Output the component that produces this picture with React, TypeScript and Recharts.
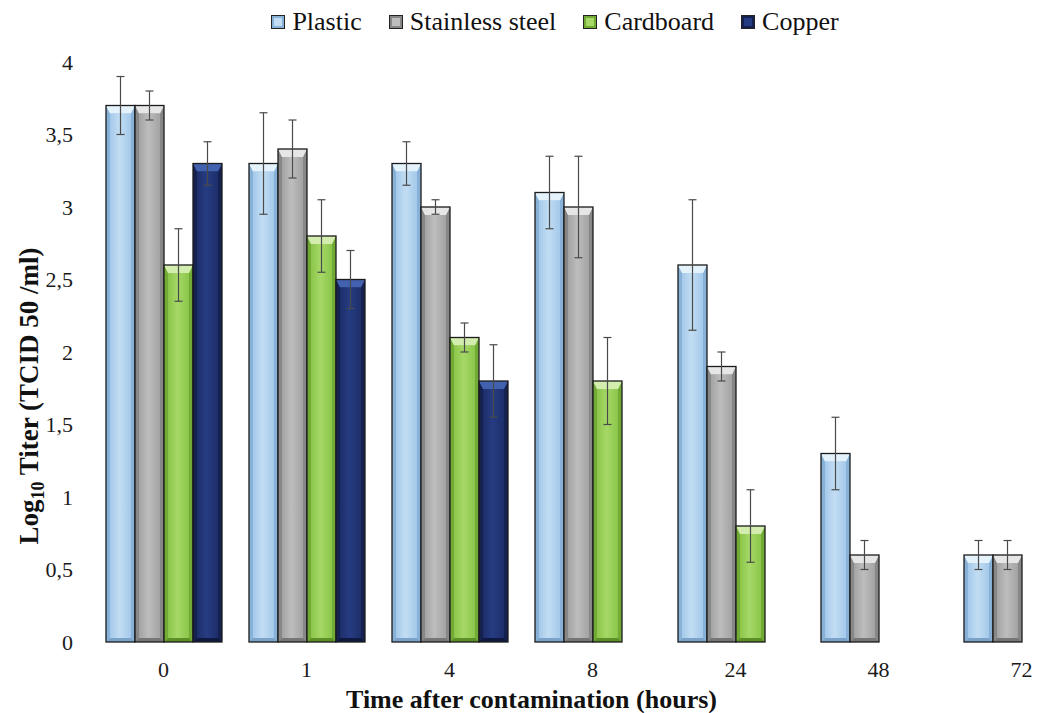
import React from 'react';
import { BarChart, Bar, XAxis, YAxis, Legend, ErrorBar, Label } from 'recharts';

// values (log10 titer, mean and +/- error)
const hours = ['0', '1', '4', '8', '24', '48', '72'];
const plastic = [3.7, 3.3, 3.3, 3.1, 2.6, 1.3, 0.6];
const plasticErr = [0.2, 0.35, 0.15, 0.25, 0.45, 0.25, 0.1];
const steel = [3.7, 3.4, 3.0, 3.0, 1.9, 0.6, 0.6];
const steelErr = [0.1, 0.2, 0.05, 0.35, 0.1, 0.1, 0.1];
const cardboard = [2.6, 2.8, 2.1, 1.8, 0.8, null, null];
const cardboardErr = [0.25, 0.25, 0.1, 0.3, 0.25, null, null];
const copper = [3.3, 2.5, 1.8, null, null, null, null];
const copperErr = [0.15, 0.2, 0.25, null, null, null, null];
const yTicks = [0, 0.5, 1, 1.5, 2, 2.5, 3, 3.5, 4];

const data = hours.map((h, i) => ({
  hour: h,
  plastic: plastic[i],
  plasticErr: plasticErr[i],
  steel: steel[i],
  steelErr: steelErr[i],
  cardboard: cardboard[i],
  cardboardErr: cardboardErr[i],
  copper: copper[i],
  copperErr: copperErr[i],
}));

const FONT = '"Liberation Serif", "Times New Roman", serif';

const palettes = {
  plastic: { face: '#A4C9EA', light: '#C2DDF3', side: '#88B1D8', top: '#E4F2FC', bottom: '#7BA2C8' },
  steel: { face: '#A3A3A3', light: '#BDBDBD', side: '#878787', top: '#E6E6E6', bottom: '#767676' },
  cardboard: { face: '#8BC64A', light: '#A6D867', side: '#71AB35', top: '#D2EDAE', bottom: '#5C9026' },
  copper: { face: '#1D2E6A', light: '#263C82', side: '#152250', top: '#4261AE', bottom: '#0F1940' },
};

const series = [
  { key: 'plastic', name: 'Plastic' },
  { key: 'steel', name: 'Stainless steel' },
  { key: 'cardboard', name: 'Cardboard' },
  { key: 'copper', name: 'Copper' },
];

// bevelled bar like the office-style 3d fill in the original
const makeShape = (key: string) => (props: any) => {
  const { x, y, width, height } = props;
  if (!height || height <= 0) return null;
  const p = palettes[key];
  const b = Math.min(4, width / 5);
  const t = Math.min(8, height / 3);
  return (
    <g>
      <rect x={x} y={y} width={width} height={height} fill={p.face} />
      <polygon
        points={`${x},${y} ${x + b},${y + t} ${x + b},${y + height - b} ${x},${y + height}`}
        fill={p.side}
      />
      <polygon
        points={`${x + width},${y} ${x + width - b},${y + t} ${x + width - b},${y + height - b} ${x + width},${y + height}`}
        fill={p.side}
      />
      <polygon
        points={`${x},${y} ${x + width},${y} ${x + width - b},${y + t} ${x + b},${y + t}`}
        fill={p.top}
      />
      <polygon
        points={`${x},${y + height} ${x + width},${y + height} ${x + width - b},${y + height - b} ${x + b},${y + height - b}`}
        fill={p.bottom}
      />
      <rect x={x + b} y={y + t} width={width - 2 * b} height={Math.max(0, height - t - b)} fill={`url(#face-${key})`} />
      <rect x={x} y={y} width={width} height={height} fill="none" stroke="#1b1b1b" strokeWidth={1.3} />
    </g>
  );
};

const LegendContent = () => (
  <div
    style={{
      display: 'flex',
      justifyContent: 'center',
      alignItems: 'center',
      gap: 27,
      height: 40,
      fontFamily: FONT,
      fontSize: 26,
      color: '#111',
      paddingLeft: 17,
    }}
  >
    {series.map((s) => {
      const p = palettes[s.key];
      return (
        <span key={s.key} style={{ display: 'flex', alignItems: 'center' }}>
          <svg width={14} height={14} style={{ marginRight: 7 }}>
            <rect x={0.5} y={0.5} width={13} height={13} fill={p.side} stroke="#222" />
            <rect x={3} y={3} width={8} height={8} fill={p.light} />
          </svg>
          <span>{s.name}</span>
        </span>
      );
    })}
  </div>
);

const YTitle = (props: any) => {
  const vb = props.viewBox || { x: 0, y: 62, height: 580 };
  const cx = vb.x + 38;
  const cy = vb.y + vb.height / 2 + 44;
  return (
    <text
      transform={`translate(${cx},${cy}) rotate(-90)`}
      textAnchor="middle"
      fontFamily={FONT}
      fontWeight="bold"
      fontSize={27}
      fill="#111"
    >
      Log
      <tspan dy={6} fontSize={18}>10</tspan>
      <tspan dy={-6}> Titer (TCID 50 /ml)</tspan>
    </text>
  );
};

const XTitle = (props: any) => {
  const vb = props.viewBox || { x: 92, y: 642, width: 1001, height: 71 };
  return (
    <text
      x={vb.x + vb.width / 2 - 61}
      y={vb.y + vb.height - 5}
      textAnchor="middle"
      fontFamily={FONT}
      fontWeight="bold"
      fontSize={26}
      fill="#111"
    >
      Time after contamination (hours)
    </text>
  );
};

export default function App() {
  return (
    <div
      style={{
        position: 'absolute',
        left: 0,
        top: 0,
        width: 1037,
        height: 713,
        overflow: 'hidden',
        background: '#fff',
      }}
    >
      <BarChart
        width={1101}
        height={713}
        data={data}
        margin={{ top: 22, right: 8, bottom: 0, left: 0 }}
        barCategoryGap={14}
        barGap={0}
      >
        <defs>
          {series.map((s) => {
            const p = palettes[s.key];
            return (
              <linearGradient key={s.key} id={`face-${s.key}`} x1="0" y1="0" x2="1" y2="0">
                <stop offset="0%" stopColor={p.face} />
                <stop offset="45%" stopColor={p.light} />
                <stop offset="100%" stopColor={p.face} />
              </linearGradient>
            );
          })}
        </defs>
        <Legend verticalAlign="top" align="center" content={LegendContent} wrapperStyle={{ top: 2 }} />
        <XAxis
          dataKey="hour"
          axisLine={false}
          tickLine={false}
          tickSize={0}
          tickMargin={19}
          height={71}
          tick={{ fill: '#1a1a1a', fontSize: 22, fontFamily: FONT }}
        >
          <Label content={XTitle} />
        </XAxis>
        <YAxis
          type="number"
          domain={[0, 4]}
          ticks={yTicks}
          width={92}
          axisLine={false}
          tickLine={false}
          tickSize={0}
          tickMargin={19}
          tickFormatter={(v: number) => String(v).replace('.', ',')}
          tick={{ fill: '#1a1a1a', fontSize: 22, fontFamily: FONT }}
        >
          <Label content={YTitle} />
        </YAxis>
        {series.map((s) => (
          <Bar key={s.key} dataKey={s.key} name={s.name} shape={makeShape(s.key)} isAnimationActive={false}>
            <ErrorBar dataKey={`${s.key}Err`} width={4} stroke="#4a4a4a" strokeWidth={1.2} isAnimationActive={false} />
          </Bar>
        ))}
      </BarChart>
    </div>
  );
}
